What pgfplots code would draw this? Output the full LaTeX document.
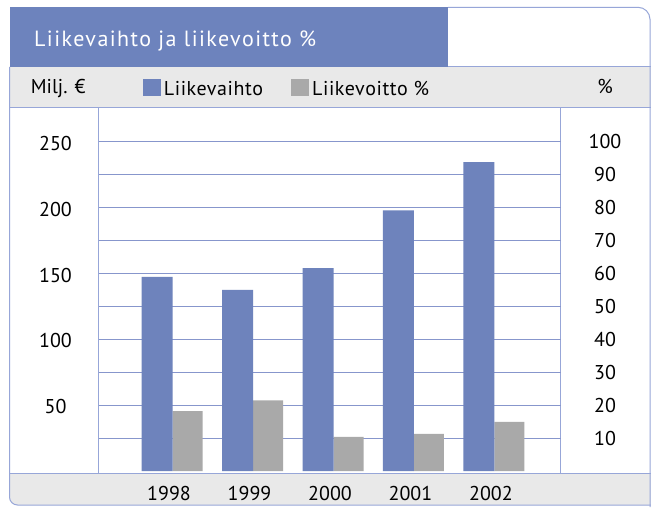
\documentclass[border=0pt]{standalone}
\usepackage{pgfplots}
\pgfplotsset{compat=1.18}
\usepackage{fontspec}
\setmainfont{PT Sans}
\newfontfamily\legfont[LetterSpace=3]{PT Sans}
\newfontfamily\titfont[LetterSpace=6.5]{PT Sans}
\definecolor{barblue}{HTML}{6E83BC}
\definecolor{bargray}{HTML}{A9A9A9}
\definecolor{bandgray}{HTML}{E9E9E9}
\definecolor{titleblue}{HTML}{6D83BD}
\definecolor{gridc}{HTML}{8796CC}
\definecolor{framec}{HTML}{97A6D8}
\newcommand{\lab}{\fontsize{20}{24}\selectfont}
\begin{document}
\begin{tikzpicture}[x=1pt,y=1pt]
\useasboundingbox (0,0) rectangle (651,507);
\fill[white] (0,0) rectangle (651,507);
% bands
\fill[titleblue] (9.5,440) rectangle (448,499.7);
\fill[bandgray] (9.5,399.5) rectangle (651,440);
\fill[bandgray] (9.5,33.7) -- (9.5,10) arc[start angle=180,end angle=270,radius=8] -- (651,2) -- (651,33.7) -- cycle;
% frame lines
\draw[framec,line width=1pt] (448,440) -- (651,440);
\draw[framec,line width=1pt] (9.5,399.5) -- (651,399.5);
\draw[framec,line width=1pt] (9.5,33.7) -- (651,33.7);
\draw[framec,line width=1pt] (98.5,33.7) -- (98.5,399.5);
\draw[framec,line width=1pt] (560.7,33.7) -- (560.7,399.5);
\draw[framec,line width=1pt] (448,499.7) -- (638,499.7) arc[start angle=90,end angle=0,radius=12] -- (650,0);
\draw[framec,line width=1pt] (9.5,440) -- (9.5,10) arc[start angle=180,end angle=270,radius=8] -- (651,2);
% texts
\node[anchor=base west,inner sep=0pt,text=white,font=\titfont\fontsize{22}{26}\selectfont] at (34,460.3) {Liikevaihto ja liikevoitto \%};
\node[anchor=base west,inner sep=0pt,font=\lab] at (30.7,413) {Milj. €};
\node[anchor=base,inner sep=0pt,font=\lab] at (605,413) {\%};
% right axis with grid and gray bars
\begin{axis}[
  at={(98.5pt,33.7pt)}, anchor=south west,
  width=462.2pt, height=365.8pt, scale only axis,
  xmin=-0.92, xmax=4.823, ymin=-0.69, ymax=110.43,
  axis line style={draw=none}, tick style={draw=none},
  xtick=\empty,
  ytick={10,20,...,100},
  ymajorgrids, grid style={gridc,line width=1.2pt},
  yticklabel pos=right,
  yticklabel style={anchor=center,xshift=44.3pt,font=\lab},
  /pgf/number format/assume math mode=true,
  ybar, bar width=30pt,
]
\addplot[fill=bargray,draw=none,bar shift=15pt] coordinates {(0,18.2) (1,21.5) (2,10.4) (3,11.3) (4,14.9)};
\end{axis}
% left axis with blue bars
\begin{axis}[
  at={(98.5pt,33.7pt)}, anchor=south west,
  width=462.2pt, height=365.8pt, scale only axis,
  xmin=-0.92, xmax=4.823, ymin=-1.725, ymax=276.1,
  axis line style={draw=none}, tick style={draw=none},
  xtick={0,1,2,3,4}, xticklabels={1998,1999,2000,2001,2002},
  xticklabel style={anchor=center,yshift=-15.7pt,xshift=-3.5pt,font=\lab},
  ytick={50,100,150,200,250},
  yticklabel style={anchor=center,xshift=-43pt,yshift=-1.5pt,font=\lab},
  /pgf/number format/assume math mode=true,
  ybar, bar width=31pt,
  legend columns=2,
  legend style={at={(axis description cs:0.0956,1.0535)},anchor=west,draw=none,fill=none,inner sep=0pt,
    font=\legfont\lab, nodes={inner xsep=3pt,inner ysep=0pt},
    /tikz/every even column/.append style={column sep=25pt}},
  legend image code/.code={\fill[#1] (0pt,-7pt) rectangle (18pt,10pt);},
]
\addplot[fill=barblue,draw=none,bar shift=-15.5pt] coordinates {(0,147.5) (1,137.5) (2,154.2) (3,198) (4,234.7)};
\addlegendentry{Liikevaihto}
\addlegendimage{fill=bargray,draw=none}
\addlegendentry{Liikevoitto \%}
\end{axis}
\end{tikzpicture}
\end{document}
